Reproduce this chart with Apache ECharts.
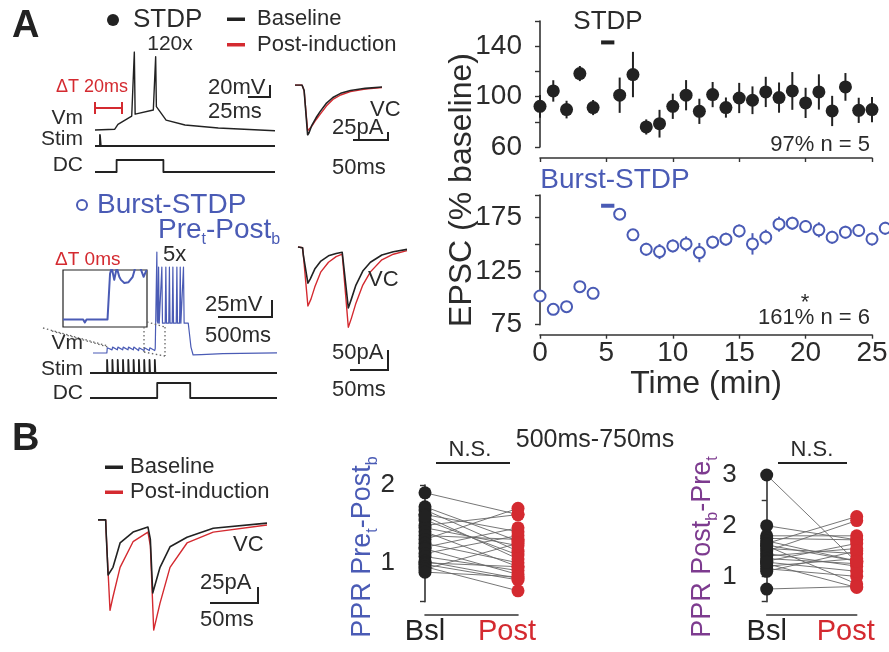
<!DOCTYPE html>
<html><head><meta charset="utf-8">
<script src="https://cdn.jsdelivr.net/npm/echarts/dist/echarts.min.js"></script>
<style>html,body{margin:0;padding:0;background:#fff}#c{width:889px;height:652px}</style>
</head><body><div id="c"></div>
<script>
// ---------- Data ----------
// Time courses (min, % baseline)
const stdpTime = [0,1,2,3,4,6,7,8,9,10,11,12,13,14,15,16,17,18,19,20,21,22,23,24,25];
const stdpMean = [92.3,104.5,89.7,118.3,91.3,101.1,117.5,75.9,78.5,92.3,101.1,88.3,101.6,91.3,98.9,97.1,103.7,99.2,104.5,95,103.7,88.6,107.7,89.1,89.7];
const stdpErr  = [9,8.5,7,6,6,14,18,6,11,10,12,10,10,8,12,11,12,12,15,12,14,12,11,10,10];
const burstTime = [0,1,2,3,4,6,7,8,9,10,11,12,13,14,15,16,17,18,19,20,21,22,23,24,25,26];
const burstMean = [101.8,89.3,91.8,110.5,104.3,178.1,158.8,145.4,143.2,148.5,150.4,142.3,152,154.8,162.5,150.4,156.6,168.8,169.7,166.6,163.5,156.6,161.3,162.9,155,165];
const burstErr  = [3,3,3,3,3,5,5,6,7,6,7,9,6,6,6,10,7,7,6,6,7,6,6,6,6,6];
const stdpInduction = [4.6, 5.6];  const stdpInductionLevel = 143;
const burstInduction = [4.6, 5.6]; const burstInductionLevel = 186;
const yTicksTop = [60,100,140];
const yTicksBottom = [75,125,175];
const xTicks = [0,5,10,15,20,25];
// PPR paired data
const ppr1Bsl  = [1.90,1.72,1.68,1.62,1.55,1.48,1.45,1.40,1.35,1.30,1.25,1.20,1.18,1.12,1.08,1.02,1.00,0.98,0.95,0.92,0.88,1.60];
const ppr1Post = [1.62,1.28,1.15,1.40,1.10,1.62,1.22,0.95,1.30,1.70,1.00,1.45,0.85,1.35,0.90,0.80,0.95,0.78,0.64,1.25,0.82,1.05];
const ppr2Bsl  = [3.0,2.0,1.80,1.75,1.70,1.65,1.60,1.55,1.50,1.45,1.40,1.35,1.30,1.25,1.20,1.15,1.10,0.75,1.28,1.62];
const ppr2Post = [1.28,1.72,1.80,1.72,1.30,2.18,0.85,1.45,2.10,1.20,1.55,1.25,1.65,0.78,1.35,1.00,1.50,0.80,1.10,1.30];
const pprCats = ['Bsl','Post'];
// Example traces (time ms, value mV / pA / a.u.)
const stdpVm = [[0,-74.2],[22,-73],[25.5,-66],[40.8,-53.7],[43,-52],[43.7,40],[44.6,-51],[46,-51],[64.8,-44.9],[66.8,-44],[67.4,33],[68.2,-40],[70,-41],[79,-59.6],[100,-66.9],[137,-71.3],[200,-75.2]];
const stdpStim = [[0,0],[5.5,0],[5.5,1],[6.5,1],[6.5,0],[200,0]];
const stdpDC = [[0,0],[24,0],[24,1],[76,1],[76,0],[200,0]];
const stdpVCBase = [[0,0],[10,0],[13,-20],[18,-180],[20,-172],[24,-145],[30,-118],[36,-95],[45,-65],[54,-45],[65,-30],[79,-20],[100,-12],[124,-7]];
const stdpVCPost = [[0,0],[10,0],[13,-20],[18,-165],[20,-162],[24,-148],[30,-125],[36,-105],[45,-75],[54,-52],[65,-36],[79,-24],[100,-15],[124,-9]];
const burstVm = [[0,-70.6],[128,-70.6],[132,-63],[176,-66],[181,-62],[225,-66],[230,-62],[274,-66],[279,-62],[323,-66],[328,-62],[372,-66],[377,-62],[421,-67],[426,-63],[471,-67],[476,-63],[520,-67],[525,-63],[570,-67],[575,-64],[587,-64],[590,77],[594,-24],[600,-27],[606,55],[612,-27],[630,-27],[636,55],[642,-27],[667,-27],[673,55],[679,-27],[700,-27],[706,55],[712,-27],[732,-27],[738,55],[744,-27],[769,-27],[775,55],[781,-27],[800,-27],[806,55],[812,-27],[830,-27],[836,55],[842,-27],[880,-27],[893,-45],[905,-62],[925,-73.5],[1000,-73],[1200,-71.5],[1700,-70.5]];
const burstInset = [[0,0],[24,0],[26,-4],[28,0],[53,0],[56,60],[58,68],[61,52],[64,68],[67,56],[69,52],[73,48],[78,49],[83,56],[86,68],[92,68],[96,56],[99,64],[100,64]];
const burstStimTimes = [130,179,228,277,326,375,424,473,522,571];
const burstDC = [[-28,0],[593,0],[593,1],[898,1],[898,0],[1700,0]];
const burstVCBase = [[0,0],[6,-2],[7,-20],[13,-90],[16,-80],[22,-55],[30,-35],[40,-22],[50,-16],[58,-13],[59,-30],[66,-152],[70,-130],[76,-95],[85,-60],[95,-38],[110,-20],[125,-12],[143,-6]];
const burstVCPost = [[0,0],[6,-2],[7,-20],[13,-147],[17,-130],[22,-100],[30,-62],[40,-38],[50,-24],[58,-18],[59,-40],[66,-200],[70,-178],[76,-140],[85,-95],[95,-62],[110,-32],[125,-18],[143,-9]];
const bVCBase = [[0,0],[8,0],[8.5,-20],[10.5,-86],[15.6,-74],[23,-36],[36.5,-19],[52,-11],[54,-12],[54.5,-30],[57,-114],[64.6,-74],[75,-42],[92.7,-27],[120,-13],[176,-5]];
const bVCPost = [[0,0],[8,0],[8.5,-20],[12.5,-141],[15.6,-120],[23,-74],[36.5,-34],[52,-19],[54,-20],[54.5,-40],[58,-172],[64.6,-130],[75,-74],[92.7,-36],[120,-19],[176,-8]];

// ---------- Style ----------
const FONT = '"Liberation Sans", Arial, Helvetica, sans-serif';
const TXT = '#2b2b2b', BLK = '#222', RED = '#d42a30', BLUE = '#4a5bb5', PURPLE = '#7d3b8f';
const axisLine = {show:true, lineStyle:{color:'#333', width:1.6}};

// build stim step trace from pulse times
const burstStim = [[-28,0]];
burstStimTimes.forEach(t => { burstStim.push([t,0],[t,1],[t+5,1],[t+5,0]); });
burstStim.push([1700,0]);

const grids = [
  {left:540, top:21, width:332, height:126},
  {left:540, top:195, width:332, height:129.7},
  {left:425, top:485, width:93, height:116.7},
  {left:766.7, top:475, width:90, height:126.7},
  {left:95, top:52, width:180, height:82},
  {left:95, top:135, width:180, height:11},
  {left:95, top:160, width:180, height:12},
  {left:295, top:85, width:87, height:50},
  {left:93, top:250, width:184, height:106},
  {left:63, top:270, width:84, height:57, show:true, borderColor:'#222', borderWidth:1.2, backgroundColor:'rgba(0,0,0,0)'},
  {left:90, top:360, width:187, height:13},
  {left:90, top:383, width:187, height:15},
  {left:298, top:245, width:109, height:85},
  {left:98, top:518, width:169, height:114}
].map(g => Object.assign({outerBoundsMode:'none', containLabel:false}, g));

const xAxes = [], yAxes = [];
function hidden(gi, xmin, xmax, ymin, ymax) {
  xAxes.push({gridIndex:gi, type:'value', min:xmin, max:xmax, show:false});
  yAxes.push({gridIndex:gi, type:'value', min:ymin, max:ymax, show:false});
}
// grid 0
xAxes.push({gridIndex:0, type:'value', min:0, max:25, interval:5, offset:11, axisLine, axisTick:{show:true, length:4, lineStyle:{color:'#333', width:1.4}}, axisLabel:{show:false}, splitLine:{show:false}});
yAxes.push({gridIndex:0, type:'value', min:60, max:160, interval:20, offset:11, axisLine, axisTick:{show:true, length:5, lineStyle:{color:'#333', width:1.4}},
  axisLabel:{fontSize:28, fontFamily:FONT, color:TXT, margin:7, formatter:v => yTicksTop.includes(v) ? String(v) : ''}, splitLine:{show:false}});
// grid 1
xAxes.push({gridIndex:1, type:'value', min:0, max:25, interval:5, offset:10, axisLine, axisTick:{show:true, length:4, lineStyle:{color:'#333', width:1.4}},
  axisLabel:{fontSize:28, fontFamily:FONT, color:TXT, margin:5, formatter:v => xTicks.includes(v) ? String(v) : ''}, splitLine:{show:false},
  name:'Time (min)', nameLocation:'middle', nameGap:33, nameTextStyle:{fontSize:32, fontFamily:FONT, color:TXT}});
yAxes.push({gridIndex:1, type:'value', min:75, max:196, interval:25, offset:11, axisLine, axisTick:{show:true, length:5, lineStyle:{color:'#333', width:1.4}},
  axisLabel:{fontSize:28, fontFamily:FONT, color:TXT, margin:7, formatter:v => yTicksBottom.includes(v) ? String(v) : ''}, splitLine:{show:false}});
// grid 2,3 PPR
[2,3].forEach(gi => {
  xAxes.push({gridIndex:gi, type:'value', min:0, max:1, interval:1, offset:13, axisLine, axisTick:{show:false}, splitLine:{show:false},
    axisLabel:{margin:3, formatter:v => v===0 ? '{a|'+pprCats[0]+'}' : '{b|'+pprCats[1]+'}',
      rich:{a:{fontSize:29, fontFamily:FONT, color:BLK}, b:{fontSize:29, fontFamily:FONT, color:RED, padding:[0,22,0,0]}}}});
});
yAxes.push({gridIndex:2, type:'value', min:0.5, max:2, interval:0.5, offset:20, axisLine, axisTick:{show:true, length:5, lineStyle:{color:'#333', width:1.4}},
  axisLabel:{fontSize:26, fontFamily:FONT, color:TXT, margin:10, formatter:v => Number.isInteger(v) ? String(v) : ''}, splitLine:{show:false}});
yAxes.push({gridIndex:3, type:'value', min:0.5, max:3, interval:0.5, offset:20, axisLine, axisTick:{show:true, length:5, lineStyle:{color:'#333', width:1.4}},
  axisLabel:{fontSize:26, fontFamily:FONT, color:TXT, margin:10, formatter:v => Number.isInteger(v) ? String(v) : ''}, splitLine:{show:false}});
hidden(4, 0, 200, -80, 40);
hidden(5, 0, 200, 0, 1);
hidden(6, 0, 200, 0, 1);
hidden(7, 0, 124, -180, 0);
hidden(8, 0, 1700, -75, 80);
hidden(9, 0, 100, -10, 65);
hidden(10, -28, 1700, 0, 1);
hidden(11, -28, 1700, 0, 1);
hidden(12, 0, 143, -207, 5);
hidden(13, 0, 176, -175, 3);

function trace(gi, data, color, width) {
  return {type:'line', xAxisIndex:gi, yAxisIndex:gi, data, symbol:'none', silent:true, lineStyle:{color, width, join:'round'}, z:3};
}
function errBars(gi, t, m, e, color) {
  return {type:'custom', xAxisIndex:gi, yAxisIndex:gi, clip:false, z:2, silent:true,
    data: t.map((x,i) => [x, m[i]-e[i], m[i]+e[i]]), encode:{x:0, y:[1,2]},
    renderItem:(p, api) => {
      const a = api.coord([api.value(0), api.value(1)]), b = api.coord([api.value(0), api.value(2)]);
      return {type:'line', shape:{x1:a[0], y1:a[1], x2:b[0], y2:b[1]}, style:{stroke:color, lineWidth:2}};
    }};
}
function pairLines(gi, bsl, post) {
  return {type:'custom', xAxisIndex:gi, yAxisIndex:gi, z:2, silent:true,
    data: bsl.map((b,i) => [b, post[i]]),
    renderItem:(p, api) => {
      const a = api.coord([0, api.value(0)]), b = api.coord([1, api.value(1)]);
      return {type:'line', shape:{x1:a[0], y1:a[1], x2:b[0], y2:b[1]}, style:{stroke:'#666', lineWidth:0.9}};
    }};
}
function dots(gi, xv, vals, color) {
  return {type:'scatter', xAxisIndex:gi, yAxisIndex:gi, z:4, silent:true, symbolSize:13,
    data: vals.map(v => [xv, v]), itemStyle:{color, opacity:1}};
}

const series = [
  errBars(0, stdpTime, stdpMean, stdpErr, BLK),
  {type:'scatter', xAxisIndex:0, yAxisIndex:0, z:4, silent:true, symbolSize:13, data: stdpTime.map((t,i)=>[t, stdpMean[i]]), itemStyle:{color:BLK, opacity:1}},
  {type:'line', xAxisIndex:0, yAxisIndex:0, symbol:'none', silent:true, data: stdpInduction.map(t=>[t, stdpInductionLevel]), lineStyle:{color:BLK, width:4}},
  errBars(1, burstTime, burstMean, burstErr, BLUE),
  {type:'scatter', xAxisIndex:1, yAxisIndex:1, z:4, silent:true, clip:false, symbolSize:11, data: burstTime.map((t,i)=>[t, burstMean[i]]), itemStyle:{color:'#fff', borderColor:BLUE, borderWidth:2, opacity:1}},
  {type:'line', xAxisIndex:1, yAxisIndex:1, symbol:'none', silent:true, data: burstInduction.map(t=>[t, burstInductionLevel]), lineStyle:{color:BLUE, width:4}},
  pairLines(2, ppr1Bsl, ppr1Post), dots(2, 0, ppr1Bsl, BLK), dots(2, 1, ppr1Post, RED),
  pairLines(3, ppr2Bsl, ppr2Post), dots(3, 0, ppr2Bsl, BLK), dots(3, 1, ppr2Post, RED),
  trace(4, stdpVm, BLK, 1.4),
  trace(5, stdpStim, BLK, 1.8),
  trace(6, stdpDC, BLK, 1.8),
  trace(7, stdpVCPost, RED, 1.4),
  trace(7, stdpVCBase, BLK, 1.6),
  trace(8, burstVm, BLUE, 1.2),
  trace(9, burstInset, BLUE, 2),
  trace(10, burstStim, BLK, 1.8),
  trace(11, burstDC, BLK, 1.8),
  trace(12, burstVCPost, RED, 1.4),
  trace(12, burstVCBase, BLK, 1.6),
  trace(13, bVCPost, RED, 1.4),
  trace(13, bVCBase, BLK, 1.6)
];

// ---------- Annotations ----------
function txt(text, x, y, size, o) {
  o = o || {};
  const st = {text, fontSize:size, fontFamily:FONT, fill:o.color||TXT, align:o.align||'left', verticalAlign:'middle', fontWeight:o.bold?'bold':'normal'};
  if (o.rich) st.rich = o.rich;
  return {type:'text', x, y, rotation:o.rot||0, silent:true, z:10, style:st};
}
function pl(points, color, width, dash) {
  return {type:'polyline', silent:true, z:10, shape:{points}, style:{stroke:color||BLK, lineWidth:width||2, fill:null, lineDash:dash||null}};
}
function subRich(color, size) {
  return {m:{fontSize:size, lineHeight:36, verticalAlign:'middle', fill:color, fontFamily:FONT},
          s:{fontSize:Math.round(size*0.58), lineHeight:16, verticalAlign:'bottom', fill:color, fontFamily:FONT}};
}
const DOT = '#666';
const graphic = [
  txt('A', 12, 27, 38, {bold:true, color:'#222'}),
  {type:'circle', shape:{cx:113, cy:20, r:6}, style:{fill:BLK}, silent:true},
  txt('STDP', 133, 20, 26),
  {type:'rect', shape:{x:227, y:17.5, width:18, height:3.5}, style:{fill:BLK}, silent:true},
  txt('Baseline', 257, 19, 22),
  {type:'rect', shape:{x:227, y:43, width:18, height:3.5}, style:{fill:RED}, silent:true},
  txt('Post-induction', 257, 45, 22),
  txt('120x', 170, 44, 21, {align:'center'}),
  txt('ΔT 20ms', 92, 87, 18, {align:'center', color:RED}),
  pl([[95,108],[122,108]], RED, 2), pl([[95,102],[95,114]], RED, 2), pl([[122,102],[122,114]], RED, 2),
  txt('Vm', 83, 118, 21, {align:'right'}),
  txt('Stim', 83, 139, 21, {align:'right'}),
  txt('DC', 83, 165, 21, {align:'right'}),
  txt('20mV', 208, 88, 22), txt('25ms', 208, 112, 22),
  pl([[248,97],[270,97],[270,85]]),
  txt('VC', 370, 110, 22), txt('25pA', 332, 128, 22), txt('50ms', 332, 168, 22),
  pl([[353,140],[388,140],[388,132]]),
  {type:'circle', shape:{cx:82, cy:205, r:5}, style:{fill:'#fff', stroke:BLUE, lineWidth:2}, silent:true},
  txt('Burst-STDP', 97, 205, 28, {color:BLUE}),
  txt('{m|Pre}{s|t}{m|-Post}{s|b}', 158, 230, 28, {color:BLUE, rich:subRich(BLUE, 28)}),
  txt('ΔT 0ms', 55, 260, 19, {color:RED}),
  txt('5x', 163, 255, 22),
  txt('25mV', 205, 305, 22), txt('500ms', 205, 336, 22),
  pl([[218,317],[272,317],[272,300]]),
  pl([[43,328],[108,346]], DOT, 1.3, [1.5,2.5]),
  pl([[52,331],[108,347]], DOT, 1.3, [1.5,2.5]),
  pl([[144,327],[144,352]], DOT, 1.3, [1.5,2.5]),
  pl([[165,327],[165,356]], DOT, 1.3, [1.5,2.5]),
  pl([[147,322],[165,327]], DOT, 1.3, [1.5,2.5]),
  pl([[144,352],[165,356]], DOT, 1.3, [1.5,2.5]),
  txt('Vm', 83, 343, 21, {align:'right'}),
  txt('Stim', 83, 369, 21, {align:'right'}),
  txt('DC', 83, 393, 21, {align:'right'}),
  txt('VC', 368, 280, 22), txt('50pA', 332, 353, 22), txt('50ms', 332, 390, 22),
  pl([[350,370],[388,370],[388,350]]),
  txt('B', 12, 440, 38, {bold:true, color:'#222'}),
  {type:'rect', shape:{x:105, y:465.5, width:18, height:3.5}, style:{fill:BLK}, silent:true},
  txt('Baseline', 130, 467, 22),
  {type:'rect', shape:{x:105, y:490.5, width:18, height:3.5}, style:{fill:RED}, silent:true},
  txt('Post-induction', 130, 492, 22),
  txt('VC', 233, 545, 22), txt('25pA', 200, 583, 22), txt('50ms', 200, 620, 22),
  pl([[210,603],[258,603],[258,587]]),
  txt('STDP', 608, 22, 26, {align:'center'}),
  txt('97% n = 5', 870, 145, 22, {align:'right'}),
  txt('Burst-STDP', 615, 180, 28, {align:'center', color:BLUE}),
  txt('161% n = 6', 870, 318, 22, {align:'right'}),
  txt('*', 805, 303, 22, {align:'center'}),
  txt('EPSC (% baseline)', 462, 190, 32, {align:'center', rot:Math.PI/2}),
  txt('N.S.', 470, 450, 22, {align:'center'}), pl([[436,463],[510,463]]),
  txt('N.S.', 812, 450, 22, {align:'center'}), pl([[778,463],[847,463]]),
  txt('500ms-750ms', 595, 440, 25, {align:'center'}),
  txt('{m|PPR Pre}{s|t}{m|-Post}{s|b}', 363, 547, 27, {align:'center', rot:Math.PI/2, rich:subRich(BLUE, 27)}),
  txt('{m|PPR Post}{s|b}{m|-Pre}{s|t}', 703, 547, 27, {align:'center', rot:Math.PI/2, rich:subRich(PURPLE, 27)})
];

const chart = echarts.init(document.getElementById('c'), null, {renderer:'canvas'});
chart.setOption({animation:false, backgroundColor:'#fff', grid:grids, xAxis:xAxes, yAxis:yAxes, series, graphic});
</script></body></html>
